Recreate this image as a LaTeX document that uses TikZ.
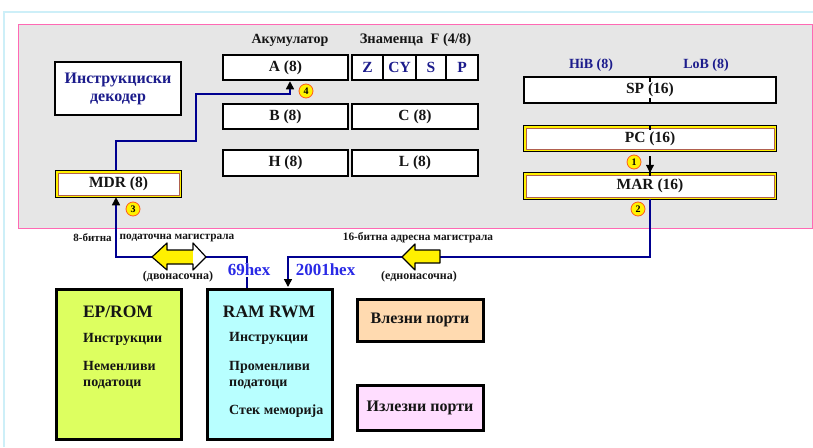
\documentclass[tikz,border=0pt]{standalone}
\usepackage{fontspec}
\setmainfont{Liberation Serif}
\usetikzlibrary{arrows.meta,calc}
\definecolor{framec}{HTML}{CDEFF8}
\definecolor{pinkc}{HTML}{FF69B4}
\definecolor{grayc}{HTML}{E6E6E6}
\definecolor{navyc}{HTML}{1C1C8C}
\definecolor{buslc}{HTML}{000090}
\definecolor{hexc}{HTML}{2A2AE6}
\definecolor{epc}{HTML}{DDFF60}
\definecolor{ramc}{HTML}{B8FFFF}
\definecolor{inc}{HTML}{FFDAB0}
\definecolor{outc}{HTML}{FFDDFF}
\definecolor{yelc}{HTML}{FFF000}
\definecolor{badgec}{HTML}{FF5A1E}
\definecolor{brownc}{HTML}{B06050}
\definecolor{txtc}{HTML}{151515}
\newcommand{\fsz}[1]{\fontsize{#1}{#1}\selectfont\bfseries}
\tikzset{
  reg/.style={draw=black, line width=1.5pt, fill=white, text=txtc, inner sep=0pt, font=\fsz{15.5}},
  flag/.style={reg, text=navyc, minimum height=25pt},
  dbl/.style={reg, line width=2.5pt},
  membox/.style={draw=black, line width=3pt, inner sep=0pt},
  lbl/.style={inner sep=0pt, text=txtc},
  badge/.style={circle, fill=yellow, draw=badgec, line width=0.8pt, minimum size=14pt, inner sep=0pt, font=\fsz{10}, text=black},
  bus/.style={draw=buslc, line width=1.5pt},
  tip/.style={-{Triangle[length=8pt,width=8pt,color=black]}},
}
\begin{document}
\begin{tikzpicture}[x=1pt,y=-1pt]
\useasboundingbox (0,0) rectangle (813,447);
% outer frame
\draw[framec, line width=1.2pt] (4,447) -- (4,12) -- (813,12);
% CPU area
\draw[pinkc, fill=grayc, line width=1pt] (18,24) rectangle (812,228);

% labels
\node[lbl, font=\fsz{14}] (lacc) at (290,40) {Акумулатор};
\node[lbl, font=\fsz{14.5}] (lflag) at (415.5,40) {Знаменца\enspace F (4/8)};
\node[lbl, font=\fsz{14}, text=navyc] (lhib) at (591,65) {HiB (8)};
\node[lbl, font=\fsz{14}, text=navyc] (llob) at (706,65) {LoB (8)};

% decoder
\node[reg, minimum width=126pt, minimum height=53pt, text=navyc, font=\fsz{16}, align=center] (dec) at (118,88.5) {Инструкциски\\[2pt]декодер};

% registers
\node[reg, minimum width=125pt, minimum height=25pt] (A) at (285.5,67.5) {A (8)};
\node[flag, minimum width=31pt] (fZ) at (367.5,67.5) {Z};
\node[flag, minimum width=33pt] (fCY) at (399.5,67.5) {CY};
\node[flag, minimum width=30pt] (fS) at (431,67.5) {S};
\node[flag, minimum width=32pt] (fP) at (462,67.5) {P};
\node[reg, minimum width=125pt, minimum height=25pt] (B) at (285.5,116.5) {B (8)};
\node[reg, minimum width=126pt, minimum height=25pt] (C) at (415,116.5) {C (8)};
\node[reg, minimum width=125pt, minimum height=26pt] (H) at (285.5,163) {H (8)};
\node[reg, minimum width=126pt, minimum height=26pt] (L) at (415,163) {L (8)};

\node[reg, minimum width=252pt, minimum height=26pt] (SP) at (650,90) {SP (16)};
\node[dbl, minimum width=252pt, minimum height=25pt] (PC) at (650,138.5) {PC (16)};
\node[dbl, minimum width=252pt, minimum height=26pt] (MAR) at (650,186) {MAR (16)};
\node[dbl, minimum width=125pt, minimum height=26pt] (MDR) at (118.5,184) {MDR (8)};

% double borders
\foreach \n in {PC,MAR,MDR}{
  \draw[yelc, line width=1.6pt] ([shift={(2.3pt,-2.3pt)}]\n.north west) rectangle ([shift={(-2.3pt,2.3pt)}]\n.south east);
  \draw[brownc, line width=0.6pt] ([shift={(3.4pt,-3.4pt)}]\n.north west) rectangle ([shift={(-3.4pt,3.4pt)}]\n.south east);
}

% SP / PC mid ticks
\draw[black, line width=1.2pt] ([yshift=-0.5pt]SP.north) -- ++(0,5);
\draw[black, line width=1.2pt] ([yshift=0.5pt]SP.south) -- ++(0,-5);
\draw[black, line width=1.2pt] ([yshift=-0.5pt]PC.north) -- ++(0,5);

% PC -> MAR
\draw[black, line width=1.2pt, tip] ([yshift=-4pt]PC.south) -- ([yshift=-1pt]MAR.north);
\draw[black, line width=1.2pt] ([yshift=1pt]MAR.north) -- ++(0,5);

% memory boxes
\node[membox, fill=epc, minimum width=125pt, minimum height=150pt] (EP) at (118.5,364) {};
\node[membox, fill=ramc, minimum width=125pt, minimum height=150pt] (RAM) at (269.5,364) {};
\node[membox, fill=inc, minimum width=126pt, minimum height=42pt, font=\fsz{16}, text=txtc] (IN) at (420,320) {Влезни порти};
\node[membox, fill=outc, minimum width=126pt, minimum height=45pt, font=\fsz{16}, text=txtc] (OUT) at (420,407.5) {Излезни порти};

\node[lbl, font=\fsz{17.5}] (ept) at (118,312) {EP/ROM};
\node[lbl, font=\fsz{14}, anchor=west] (ep1) at (83,339) {Инструкции};
\node[lbl, font=\fsz{14}, anchor=west, align=left] (ep2) at (83,375) {Неменливи\\[1.5pt]податоци};
\node[lbl, font=\fsz{17.5}] (ramt) at (269,312) {RAM RWM};
\node[lbl, font=\fsz{14}, anchor=west] (ram1) at (229,338) {Инструкции};
\node[lbl, font=\fsz{14}, anchor=west, align=left] (ram2) at (229,375) {Променливи\\[1.5pt]податоци};
\node[lbl, font=\fsz{14}, anchor=west] (ram3) at (229,411) {Стек меморија};

% buses
\draw[bus, tip] ([xshift=-2.5pt]MDR.north) -- (116,141) -- (196,141) -- (196,94) -- (290,94) -- ([xshift=4.5pt,yshift=-0.5pt]A.south);
\draw[bus, tip] ([xshift=-22.5pt]RAM.north) -- (247,257) -- (116,257) -- ([xshift=-2.5pt,yshift=1pt]MDR.south);
\draw[bus, tip] ([yshift=1pt]MAR.south) -- (650,257) -- (288,257) -- ([xshift=18.5pt,yshift=0.5pt]RAM.north);

% block arrows
\fill[yelc] (152,257) -- (167,243) -- (167,250) -- (193,250) -- (193,264) -- (167,264) -- (167,270) -- cycle;
\fill[white] (193,243) -- (206,257) -- (193,270) -- cycle;
\draw[black, line width=1.2pt, line join=round] (152,257) -- (167,243) -- (167,250) -- (193,250) -- (193,243) -- (206,257) -- (193,270) -- (193,264) -- (167,264) -- (167,270) -- cycle;
\draw[black, fill=yelc, line width=1.2pt, line join=round] (402,257) -- (415,244) -- (415,250) -- (440,250) -- (440,263) -- (415,263) -- (415,270) -- cycle;

% bus labels
\node[lbl, font=\fsz{11}] (b8a) at (92.5,238) {8-битна};
\node[lbl, font=\fsz{11.3}] (b8b) at (177,238) {податочна магистрала};
\node[lbl, font=\fsz{11.3}] (b16) at (418,238) {16-битна адресна магистрала};
\node[lbl, font=\fsz{12}] (bdir) at (178,277) {(двонасочна)};
\node[lbl, font=\fsz{12}] (bone) at (419,277) {(еднонасочна)};
\node[lbl, font=\fsz{17}, text=hexc, fill=white, inner sep=1pt] (h69) at (249,270) {69hex};
\node[lbl, font=\fsz{17}, text=hexc] (h2001) at (325.5,270) {2001hex};

% badges
\node[badge] (n1) at (634,162) {1};
\node[badge] (n2) at (638,209) {2};
\node[badge] (n3) at (133,209) {3};
\node[badge] (n4) at (306,91) {4};
\end{tikzpicture}
\end{document}
